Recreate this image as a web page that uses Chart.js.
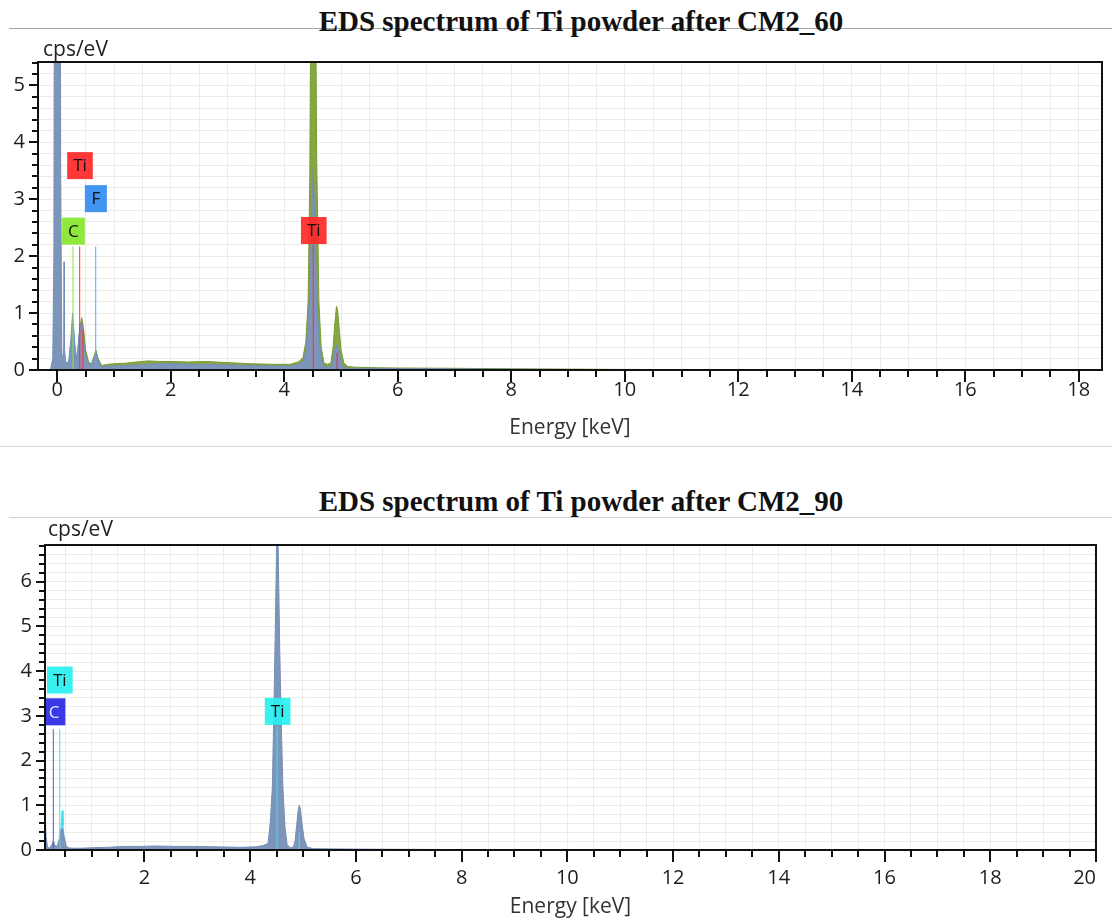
<!DOCTYPE html>
<html>
<head>
<meta charset="utf-8">
<script src="https://cdn.jsdelivr.net/npm/chart.js@4.4.1/dist/chart.umd.min.js"></script>
<style>
body{margin:0;background:#fff;}
#page{position:relative;width:1112px;height:921px;overflow:hidden;font-family:'Open Sans',sans-serif;}
.rule{position:absolute;right:0;height:1px;}
.title{position:absolute;left:25px;width:1112px;text-align:center;font:bold 29px 'Liberation Serif',serif;color:#111;line-height:30px;}
.unit{position:absolute;font-size:21px;color:#222;line-height:24px;z-index:2;}
canvas{position:absolute;left:0;}
</style>
</head>
<body>
<div id="page">
  <div class="rule" style="top:28px;left:9px;background:#a4a4a4"></div>
  <div class="title" style="top:6px">EDS spectrum of Ti powder after CM2_60</div>
  <div class="unit" style="left:43px;top:36px">cps/eV</div>
  <canvas id="c60" width="1112" height="416" style="top:30px"></canvas>
  <div class="rule" style="top:446px;left:0;background:#d8d8d8"></div>

  <div class="title" style="top:486px">EDS spectrum of Ti powder after CM2_90</div>
  <div class="rule" style="top:517px;left:9px;background:#d0d0d0"></div>
  <div class="unit" style="left:48px;top:516px">cps/eV</div>
  <canvas id="c90" width="1112" height="401" style="top:520px"></canvas>
</div>
<script>
// CM2_60: energy (keV) and counts (cps/eV), two overlaid spectra
var energy60 = [-0.34,-0.12,-0.08,-0.06,-0.045,0.00,0.045,0.06,0.08,0.10,0.115,0.12,0.125,0.15,0.20,0.24,0.27,0.30,0.33,0.36,
  0.40,0.43,0.46,0.50,0.55,0.60,0.65,0.68,0.72,0.78,0.90,1.0,1.2,1.4,1.6,1.8,2.0,2.3,2.6,3.0,
  3.4,3.8,4.1,4.25,4.33,4.38,4.42,4.45,4.48,4.51,4.54,4.57,4.61,4.65,4.70,4.76,4.82,4.86,4.89,4.92,
  4.94,4.97,5.00,5.05,5.12,5.25,5.6,6.0,7.0,8.0,9.0,10.0,12.0,14.0,16.0,18.41];
var green60 = [0,0,0,0,0,0,0,0.02,0.03,0.04,0.05,0.05,0.05,0.05,0.1,0.35,0.6,0.4,0.15,0.3,
  0.75,0.92,0.75,0.35,0.15,0.1,0.25,0.35,0.2,0.08,0.1,0.11,0.12,0.14,0.16,0.15,0.15,0.14,0.15,0.13,
  0.11,0.1,0.1,0.14,0.22,0.5,1.2,3.4,9,15,9,3.8,1.2,0.4,0.12,0.1,0.12,0.4,0.8,1.12,
  1.05,0.7,0.35,0.12,0.06,0.05,0.04,0.035,0.03,0.02,0.015,0.01,0.005,0.003,0.002,0];
var blue60 = [0,0,0.2,2.0,12,30,12,3.5,0.3,0.15,0.4,1.9,0.4,0.12,0.15,0.55,1.0,0.6,0.2,0.35,
  0.8,0.85,0.55,0.25,0.12,0.08,0.22,0.3,0.15,0.06,0.07,0.07,0.08,0.09,0.1,0.11,0.11,0.1,0.1,0.09,
  0.08,0.07,0.07,0.1,0.15,0.35,0.8,1.4,2.6,3.55,2.6,1.3,0.6,0.2,0.06,0.05,0.06,0.18,0.35,0.45,
  0.42,0.28,0.12,0.05,0.03,0.03,0.03,0.025,0.02,0.015,0.01,0.008,0.004,0.002,0.001,0];

// CM2_90: energy (keV) and counts (cps/eV)
var energy90 = [0.12,0.14,0.17,0.21,0.25,0.28,0.31,0.35,0.39,0.42,0.45,0.48,0.52,0.56,0.62,0.8,1.0,1.3,1.6,1.9,
  2.2,2.6,3.0,3.4,3.8,4.1,4.25,4.34,4.38,4.42,4.45,4.48,4.51,4.53,4.56,4.59,4.62,4.66,4.70,4.76,
  4.82,4.85,4.88,4.91,4.93,4.95,4.98,5.02,5.08,5.2,5.6,6.0,7.0,8.0,10.0,12.0,15.0,20.0];
var blue90 = [1.0,0.3,0.05,0.05,0.12,0.2,0.1,0.08,0.25,0.45,0.48,0.3,0.1,0.05,0.04,0.04,0.05,0.06,0.08,0.08,
  0.09,0.08,0.08,0.07,0.06,0.07,0.1,0.15,0.6,1.4,3.2,5.2,7.5,6.8,4.5,2.8,1.4,0.5,0.12,0.05,
  0.07,0.2,0.55,0.9,1.0,0.92,0.6,0.25,0.06,0.03,0.025,0.02,0.015,0.01,0.005,0.003,0.002,0];
var cyanEnergy90 = [0.38,0.41,0.43,0.445,0.46,0.49,0.53];
var cyan90 = [0.05,0.3,0.6,0.88,0.55,0.15,0.04];

// axis tick labels
var xLabels60 = [0,2,4,6,8,10,12,14,16,18];
var xLabels90 = [2,4,6,8,10,12,14,16,18,20];

// element labels (name, energy, height in cps/eV)
var markName60 = ['Ti','F','C','Ti'];
var markE60 = [0.40,0.68,0.285,4.52];
var markY60 = [3.59,3.01,2.44,2.45];
var markColor60 = ['rgba(255,40,40,0.92)','rgba(50,140,240,0.92)','rgba(135,230,45,0.92)','rgba(255,40,40,0.92)'];
var markInk60 = ['#111','#111','#111','#111'];
var lineE60 = [0.277,0.395,0.452,0.677,4.51,4.93];
var lineTop60 = [2.17,2.17,0.7,2.17,2.2,0.3];
var lineColor60 = ['#8ee04a','#ff3030','#ff3030','#5aa8ff','#ff3030','#e03050'];

var markName90 = ['Ti','C','Ti'];
var markE90 = [0.40,0.29,4.52];
var markY90 = [3.8,3.09,3.1];
var markColor90 = ['rgba(40,240,240,0.92)','rgba(40,40,230,0.92)','rgba(40,240,240,0.92)'];
var markInk90 = ['#111','#e6e6ff','#111'];
var lineE90 = [0.277,0.40,4.51,4.93];
var lineTop90 = [2.7,2.7,2.75,0.4];
var lineColor90 = ['#5050f0','#40e0e8','#40e0e8','#40e0e8'];

Chart.defaults.font.family = "'Open Sans', sans-serif";

function halfSteps(a, b) {
  var t = [];
  for (var k = a * 2; k <= b * 2; k++) t.push(k / 2);
  return t;
}
function fifthSteps(b) {
  var t = [];
  for (var k = 0; k <= b * 5 + 1e-9; k++) t.push(k / 5);
  return t;
}
function isWhole(v) { return Math.abs(v - Math.round(v)) < 1e-9; }

function spectrumChart(id, o) {
  var datasets = [];
  o.lineE.forEach(function (e, i) {
    datasets.push({
      data: [{x: e, y: 0}, {x: e, y: o.lineTop[i]}],
      borderColor: o.lineColor[i], borderWidth: 1, pointRadius: 0, fill: false, order: 0
    });
  });
  o.series.forEach(function (s) {
    datasets.push({
      data: s.energy.map(function (e, j) { return {x: e, y: s.values[j]}; }),
      borderColor: s.line, backgroundColor: s.fill, borderWidth: 1,
      pointRadius: 0, fill: 'origin', order: s.order
    });
  });

  var frame = {
    id: 'frame',
    afterDatasetsDraw: function (chart) {
      var ctx = chart.ctx, a = chart.chartArea, x = chart.scales.x, y = chart.scales.y;
      ctx.save();
      ctx.beginPath();
      ctx.rect(a.left, a.top, a.right - a.left, a.bottom - a.top);
      ctx.clip();
      ctx.font = "17px 'Open Sans'";
      ctx.textAlign = 'center';
      ctx.textBaseline = 'middle';
      o.markName.forEach(function (n, i) {
        var px = x.getPixelForValue(o.markE[i]), py = y.getPixelForValue(o.markY[i]);
        var w = Math.max(ctx.measureText(n).width + 12, 22), h = 27;
        ctx.fillStyle = o.markColor[i];
        ctx.fillRect(px - w / 2, py - h / 2, w, h);
        ctx.fillStyle = o.markInk[i];
        ctx.fillText(n, px, py + 1);
      });
      ctx.restore();

      ctx.save();
      ctx.strokeStyle = '#111';
      ctx.lineWidth = 2;
      ctx.strokeRect(a.left, a.top, a.right - a.left, a.bottom - a.top);
      x.ticks.forEach(function (t) {
        var px = Math.round(x.getPixelForValue(t.value));
        var len = o.xLabels.indexOf(t.value) >= 0 ? 12 : 7;
        ctx.beginPath(); ctx.moveTo(px, a.bottom); ctx.lineTo(px, a.bottom + len); ctx.stroke();
      });
      y.ticks.forEach(function (t) {
        var py = Math.round(y.getPixelForValue(t.value));
        var len = isWhole(t.value) ? 9 : 6;
        ctx.beginPath(); ctx.moveTo(a.left, py); ctx.lineTo(a.left - len, py); ctx.stroke();
      });
      ctx.restore();
    }
  };

  return new Chart(document.getElementById(id), {
    type: 'line',
    data: {datasets: datasets},
    plugins: [frame],
    options: {
      responsive: false,
      animation: false,
      layout: {padding: {top: o.padTop, right: o.padRight, left: 0, bottom: 0}},
      plugins: {legend: {display: false}, tooltip: {enabled: false}},
      scales: {
        x: {
          type: 'linear', min: o.xMin, max: o.xMax,
          afterBuildTicks: function (s) { s.ticks = o.xTicks.map(function (v) { return {value: v}; }); },
          afterFit: function (s) { s.height = o.xHeight; },
          grid: {color: '#ecebe4', drawTicks: false},
          border: {display: false},
          ticks: {
            autoSkip: false, maxRotation: 0, minRotation: 0, padding: o.xPad, align: o.xAlign,
            color: '#1e1e1e', font: {size: 20},
            callback: function (v) { return o.xLabels.indexOf(v) >= 0 ? String(v) : ''; }
          },
          title: {display: true, text: 'Energy [keV]', color: '#333', font: {size: 21}, padding: {top: 0, bottom: o.titlePad}}
        },
        y: {
          type: 'linear', min: 0, max: o.yMax,
          afterBuildTicks: function (s) { s.ticks = fifthSteps(o.yMax).map(function (v) { return {value: v}; }); },
          afterFit: function (s) { s.width = o.yWidth; },
          grid: {color: '#ecebe4', drawTicks: false},
          border: {display: false},
          ticks: {
            autoSkip: false, padding: 13, color: '#1e1e1e', font: {size: 20},
            callback: function (v) { return isWhole(v) ? String(Math.round(v)) : ''; }
          }
        }
      }
    }
  });
}

spectrumChart('c60', {
  series: [
    {energy: energy60, values: blue60, line: 'rgb(118,142,182)', fill: 'rgba(125,148,187,1)', order: 1},
    {energy: energy60, values: green60, line: 'rgb(120,155,50)', fill: 'rgba(135,165,65,1)', order: 2}
  ],
  lineE: lineE60, lineTop: lineTop60, lineColor: lineColor60,
  markName: markName60, markE: markE60, markY: markY60, markColor: markColor60, markInk: markInk60,
  xMin: -0.34, xMax: 18.41, yMax: 5.41,
  xTicks: halfSteps(0, 18), xLabels: xLabels60, xAlign: 'center',
  padTop: 32, padRight: 10, yWidth: 38, xHeight: 76, xPad: 8, titlePad: 5
});

spectrumChart('c90', {
  series: [
    {energy: energy90, values: blue90, line: 'rgb(118,142,182)', fill: 'rgba(125,148,187,1)', order: 1},
    {energy: cyanEnergy90, values: cyan90, line: 'rgb(60,220,230)', fill: 'rgba(60,220,230,0.8)', order: 2}
  ],
  lineE: lineE90, lineTop: lineTop90, lineColor: lineColor90,
  markName: markName90, markE: markE90, markY: markY90, markColor: markColor90, markInk: markInk90,
  xMin: 0.12, xMax: 20, yMax: 6.82,
  xTicks: halfSteps(0.5, 20), xLabels: xLabels90, xAlign: 'inner',
  padTop: 23, padRight: 8, yWidth: 45, xHeight: 71, xPad: 16, titlePad: 1
});
</script>
</body>
</html>
